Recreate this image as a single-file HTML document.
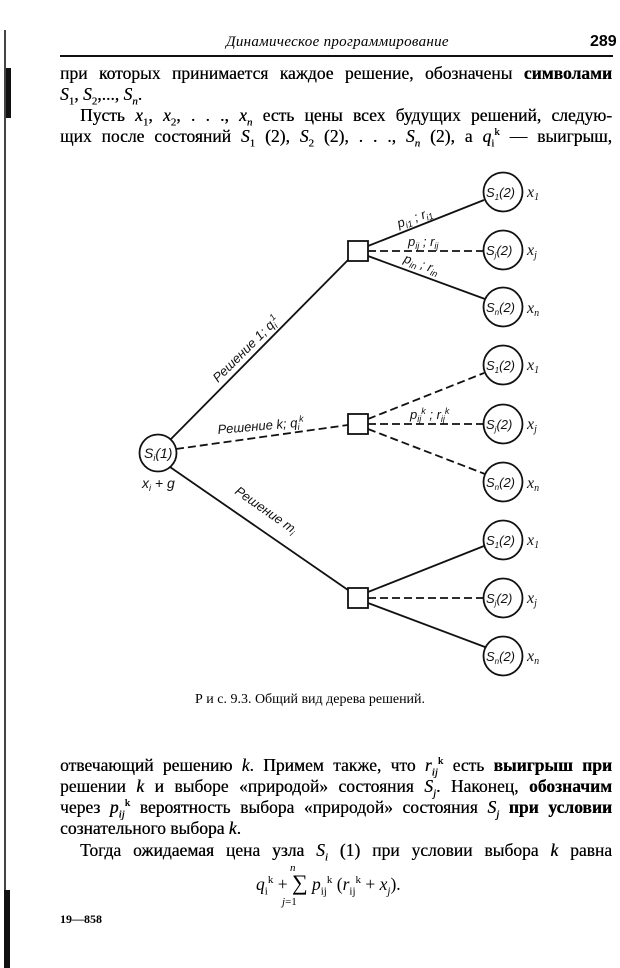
<!DOCTYPE html>
<html><head><meta charset="utf-8">
<style>
body{margin:0;background:#fff;}
#p{position:relative;width:620px;height:968px;overflow:hidden;background:#fff;font-family:"Liberation Serif",serif;color:#000;}
.l{position:absolute;left:60px;width:552px;font-size:17.5px;line-height:21px;white-space:nowrap;text-align:justify;text-align-last:justify;text-shadow:0.3px 0 0 #000;}
.nl{text-align-last:left;}
i{font-style:italic;}
sub,sup{font-size:11px;line-height:0;}
</style></head><body><div id="p">
<div style="position:absolute;left:4px;top:30px;width:2px;height:930px;background:#444"></div>
<div style="position:absolute;left:6px;top:68px;width:5px;height:50px;background:#111"></div>
<div style="position:absolute;left:4px;top:890px;width:6px;height:78px;background:#111"></div>
<div style="position:absolute;left:226px;top:34px;font-size:15px;font-style:italic;letter-spacing:0.3px">Динамическое программирование</div>
<div style="position:absolute;left:590px;top:33px;font-size:16px;font-family:'Liberation Sans',sans-serif;font-weight:bold">289</div>
<div style="position:absolute;left:60px;top:55px;width:553px;height:2px;background:#111"></div>
<div class="l" style="top:63px">при которых принимается каждое решение, обозначены <b>символами</b></div>
<div class="l nl" style="top:84px"><i>S</i><sub>1</sub>, <i>S</i><sub>2</sub>,..., <i>S<sub>n</sub></i>.</div>
<div class="l" style="top:105px;left:80px;width:532px">Пусть <i>x</i><sub>1</sub>, <i>x</i><sub>2</sub>, . . ., <i>x<sub>n</sub></i> есть цены всех будущих решений, следую-</div>
<div class="l" style="top:126px">щих после состояний <i>S</i><sub>1</sub> (2), <i>S</i><sub>2</sub> (2), . . ., <i>S<sub>n</sub></i> (2), а <i>q</i><sub>i</sub><sup>k</sup> — выигрыш,</div>

<svg style="position:absolute;left:0;top:0" width="620" height="968" font-family="Liberation Sans, sans-serif" font-style="italic" font-size="13">
<g stroke="#111" stroke-width="1.8" fill="none">
<line x1="170" y1="440" x2="348" y2="260"/>
<line x1="176" y1="449" x2="348" y2="425" stroke-dasharray="8,4"/>
<line x1="170" y1="467" x2="348" y2="590"/>
<line x1="368" y1="246" x2="484" y2="200"/>
<line x1="368" y1="251" x2="484" y2="251" stroke-dasharray="8,4"/>
<line x1="368" y1="256" x2="485" y2="299"/>
<line x1="368" y1="419" x2="484" y2="373" stroke-dasharray="8,4"/>
<line x1="368" y1="424" x2="484" y2="424" stroke-dasharray="8,4"/>
<line x1="368" y1="429" x2="485" y2="474" stroke-dasharray="8,4"/>
<line x1="368" y1="592" x2="484" y2="546"/>
<line x1="368" y1="598" x2="484" y2="598" stroke-dasharray="8,4"/>
<line x1="368" y1="603" x2="485" y2="647"/>
<circle cx="158" cy="453" r="18.5"/>
<rect x="348" y="241" width="20" height="20" fill="#fff"/>
<rect x="348" y="414" width="20" height="20" fill="#fff"/>
<rect x="348" y="588" width="20" height="20" fill="#fff"/>
<circle cx="503" cy="192" r="19.5"/><circle cx="503" cy="250" r="19.5"/><circle cx="503" cy="307" r="19.5"/>
<circle cx="503" cy="365" r="19.5"/><circle cx="503" cy="424" r="19.5"/><circle cx="503" cy="482" r="19.5"/>
<circle cx="503" cy="540" r="19.5"/><circle cx="503" cy="598" r="19.5"/><circle cx="503" cy="656" r="19.5"/>
</g>
<g fill="#111">
<text x="144" y="458" font-size="14">S<tspan font-size="9" dy="3">i</tspan><tspan dy="-3">(1)</tspan></text>
<text x="142" y="488" font-size="14">x<tspan font-size="9" dy="3">i</tspan><tspan dy="-3"> + g</tspan></text>
<g font-size="13">
<text x="486" y="197">S<tspan font-size="8" dy="3">1</tspan><tspan dy="-3">(2)</tspan></text>
<text x="486" y="255">S<tspan font-size="8" dy="3">j</tspan><tspan dy="-3">(2)</tspan></text>
<text x="486" y="312">S<tspan font-size="8" dy="3">n</tspan><tspan dy="-3">(2)</tspan></text>
<text x="486" y="370">S<tspan font-size="8" dy="3">1</tspan><tspan dy="-3">(2)</tspan></text>
<text x="486" y="429">S<tspan font-size="8" dy="3">j</tspan><tspan dy="-3">(2)</tspan></text>
<text x="486" y="487">S<tspan font-size="8" dy="3">n</tspan><tspan dy="-3">(2)</tspan></text>
<text x="486" y="545">S<tspan font-size="8" dy="3">1</tspan><tspan dy="-3">(2)</tspan></text>
<text x="486" y="603">S<tspan font-size="8" dy="3">j</tspan><tspan dy="-3">(2)</tspan></text>
<text x="486" y="661">S<tspan font-size="8" dy="3">n</tspan><tspan dy="-3">(2)</tspan></text>
</g>
<g font-family="Liberation Serif, serif" font-size="16">
<text x="527" y="197">x<tspan font-size="10" dy="3">1</tspan></text>
<text x="527" y="255">x<tspan font-size="10" dy="3">j</tspan></text>
<text x="527" y="313">x<tspan font-size="10" dy="3">n</tspan></text>
<text x="527" y="370">x<tspan font-size="10" dy="3">1</tspan></text>
<text x="527" y="429">x<tspan font-size="10" dy="3">j</tspan></text>
<text x="527" y="488">x<tspan font-size="10" dy="3">n</tspan></text>
<text x="527" y="545">x<tspan font-size="10" dy="3">1</tspan></text>
<text x="527" y="603">x<tspan font-size="10" dy="3">j</tspan></text>
<text x="527" y="661">x<tspan font-size="10" dy="3">n</tspan></text>
</g>
<text transform="translate(218,383) rotate(-45)" font-size="13">Решение 1; q<tspan font-size="9" dy="3">i</tspan><tspan font-size="9" dy="-8">1</tspan></text>
<text transform="translate(218,434) rotate(-5)" font-size="13">Решение k; q<tspan font-size="9" dy="3">i</tspan><tspan font-size="9" dy="-8">k</tspan></text>
<text transform="translate(234,493) rotate(35)" font-size="13">Решение m<tspan font-size="9" dy="3">i</tspan></text>
<text transform="translate(399,228) rotate(-20)" font-size="13">p<tspan font-size="9" dy="3">i1</tspan><tspan dy="-3"> ; r</tspan><tspan font-size="9" dy="3">i1</tspan></text>
<text x="408" y="246" font-size="13">p<tspan font-size="9" dy="3">ij</tspan><tspan dy="-3"> ; r</tspan><tspan font-size="9" dy="3">ij</tspan></text>
<text transform="translate(403,262) rotate(20)" font-size="13">p<tspan font-size="9" dy="3">in</tspan><tspan dy="-3"> ; r</tspan><tspan font-size="9" dy="3">in</tspan></text>
<text x="410" y="419" font-size="13">p<tspan font-size="9" dy="3">ij</tspan><tspan font-size="9" dy="-8">k</tspan><tspan dy="5"> ; r</tspan><tspan font-size="9" dy="3">ij</tspan><tspan font-size="9" dy="-8">k</tspan></text>
</g>
</svg>

<div style="position:absolute;left:0;width:620px;top:692px;text-align:center;font-size:14px">Р и с. 9.3. Общий вид дерева решений.</div>

<div class="l" style="top:755px">отвечающий решению <i>k</i>. Примем также, что <i>r<sub>ij</sub></i><sup>k</sup> есть <b>выигрыш при</b></div>
<div class="l" style="top:776px">решении <i>k</i> и выборе «природой» состояния <i>S<sub>j</sub></i>. Наконец, <b>обозначим</b></div>
<div class="l" style="top:797px">через <i>p<sub>ij</sub></i><sup>k</sup> вероятность выбора «природой» состояния <i>S<sub>j</sub></i> <b>при условии</b></div>
<div class="l nl" style="top:818px">сознательного выбора <i>k</i>.</div>
<div class="l" style="top:840px;left:80px;width:532px">Тогда ожидаемая цена узла <i>S<sub>i</sub></i> (1) при условии выбора <i>k</i> равна</div>
<div style="position:absolute;left:256px;top:870px;font-size:17.5px;white-space:nowrap"><i>q</i><sub>i</sub><sup>k</sup> + <span style="font-size:22px">∑</span> <i>p</i><sub>ij</sub><sup>k</sup> (<i>r</i><sub>ij</sub><sup>k</sup> + <i>x<sub>j</sub></i>).</div>
<div style="position:absolute;left:290px;top:862px;font-size:11px;font-style:italic">n</div>
<div style="position:absolute;left:282px;top:896px;font-size:11px"><i>j</i>=1</div>
<div style="position:absolute;left:60px;top:912px;font-size:12px;font-weight:bold">19—858</div>
</div></body></html>
